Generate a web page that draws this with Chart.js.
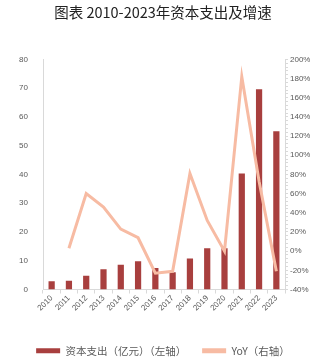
<!DOCTYPE html>
<html><head><meta charset="utf-8">
<script src="https://cdn.jsdelivr.net/npm/chart.js@4"></script>
<style>html,body{margin:0;padding:0;background:#fff}#wrap{width:310px;height:358px}</style>
</head><body><div id="wrap"><canvas id="c" width="310" height="358"></canvas></div>
<script>
const years = ['2010','2011','2012','2013','2014','2015','2016','2017','2018','2019','2020','2021','2022','2023'];
const capex = [2.9, 3.0, 4.8, 7.0, 8.6, 9.8, 7.5, 6.0, 10.8, 14.3, 14.3, 40.3, 69.6, 55.0];
const yoy = [null, 3, 60, 46, 23, 14, -23, -21, 81, 32, 0, 182, 73, -21];
const leftTicks = [0, 10, 20, 30, 40, 50, 60, 70, 80];
const rightTicks = [-40, -20, 0, 20, 40, 60, 80, 100, 120, 140, 160, 180, 200];

const tickFont = {family: 'Liberation Sans, Arial, sans-serif', size: 8};
const grey = '#595959';
const axisGrey = '#d9d9d9';

new Chart(document.getElementById('c'), {
  data: {
    labels: years,
    datasets: [
      {type: 'line', label: 'YoY（右轴）', data: yoy, yAxisID: 'y1',
       borderColor: '#F7BBA3', backgroundColor: '#F7BBA3', borderWidth: 3,
       pointRadius: 0, tension: 0, order: 0},
      {type: 'bar', label: '资本支出（亿元）（左轴）', data: capex, yAxisID: 'y',
       backgroundColor: '#A83F3E', borderWidth: 0, barPercentage: 0.36, categoryPercentage: 1, order: 1}
    ]
  },
  options: {
    responsive: false, animation: false, devicePixelRatio: 1,
    layout: {padding: {left: 16, right: 0, top: 0, bottom: -8}},
    plugins: {
      title: {display: true, text: '图表 2010-2023年资本支出及增速', color: '#222',
        font: {family: 'Noto Sans CJK SC', size: 14.5, weight: 'normal', lineHeight: 1.2},
        padding: {top: 4, bottom: 38}},
      legend: {position: 'bottom', reverse: true,
        labels: {color: grey, font: {family: 'Noto Sans CJK SC', size: 10.5},
          boxWidth: 24, boxHeight: 5, padding: 16,
          generateLabels(chart) {
            const items = Chart.defaults.plugins.legend.labels.generateLabels(chart);
            items.forEach(it => {
              const ds = chart.data.datasets[it.datasetIndex];
              if (ds.type === 'line') { it.fillStyle = ds.borderColor; }
              it.strokeStyle = 'rgba(0,0,0,0)'; it.lineWidth = 0;
            });
            return items;
          }}},
      tooltip: {enabled: false}
    },
    scales: {
      x: {
        grid: {display: true, drawOnChartArea: false, color: axisGrey, tickLength: 4, offset: true},
        border: {color: axisGrey},
        ticks: {color: grey, font: tickFont, maxRotation: 45, minRotation: 45, padding: 0, autoSkip: false},
        afterFit(s) { s.height = 40; }
      },
      y: {
        position: 'left', min: 0, max: 80,
        afterBuildTicks(s) { s.ticks = leftTicks.map(v => ({value: v})); },
        grid: {display: false}, border: {color: axisGrey, display: true},
        ticks: {color: grey, font: tickFont, padding: 7},
        afterFit(s) { s.width = 27; }
      },
      y1: {
        position: 'right', min: -40, max: 200,
        afterBuildTicks(s) {
          const t = [];
          for (let v = -40; v <= 200; v += 4) t.push({value: v});
          s.ticks = t;
        },
        grid: {display: true, drawOnChartArea: false, color: axisGrey, tickLength: 3},
        border: {color: axisGrey},
        ticks: {color: grey, font: tickFont, padding: 2, autoSkip: false,
          callback(v) { return rightTicks.includes(v) ? v + '%' : ''; }},
        afterFit(s) { s.width = 25; }
      }
    }
  }
});
</script></body></html>
